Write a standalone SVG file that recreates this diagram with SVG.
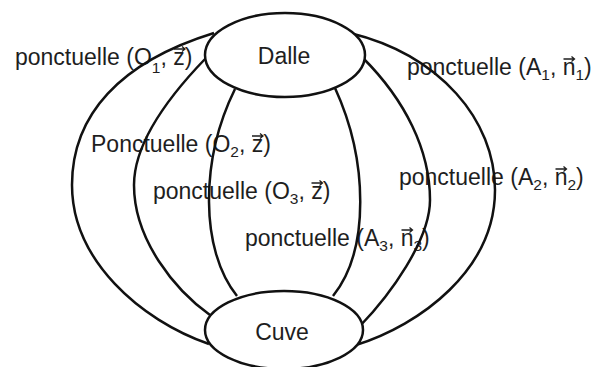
<svg xmlns="http://www.w3.org/2000/svg" xmlns:xlink="http://www.w3.org/1999/xlink" width="606" height="367" viewBox="0 0 606 367">
<style>
.lbl{font-family:"Liberation Sans",Arial,sans-serif;font-size:23px;fill:#1e1e1e}
.sub{font-size:15.5px}
.node{fill:#fff;stroke:#111;stroke-width:2.5}
.ntx{font-family:"Liberation Sans",Arial,sans-serif;font-size:23px;fill:#1e1e1e;text-anchor:middle}
.edge{fill:none;stroke:#111;stroke-width:2.5}
.vec{fill:none;stroke:#1e1e1e;stroke-width:1.3}
</style>
<defs>
<path id="vec" class="vec" d="M0,0 H11 M8,-2.5 L11,0 L8,2.5"/>
</defs>
<rect width="606" height="367" fill="#fff"/>
<g id="labels">
<text class="lbl" x="15" y="65">ponctuelle (O<tspan class="sub" dy="8">1</tspan><tspan dy="-8">, z)</tspan></text>
<use href="#vec" x="174" y="49"/>
<text class="lbl" x="91" y="152">Ponctuelle (O<tspan class="sub" dy="5">2</tspan><tspan dy="-5">, z)</tspan></text>
<use href="#vec" x="252" y="136"/>
<text class="lbl" x="153" y="199">ponctuelle (O<tspan class="sub" dy="5">3</tspan><tspan dy="-5">, z)</tspan></text>
<use href="#vec" x="311.5" y="183"/>
<text class="lbl" x="245" y="246">ponctuelle (A<tspan class="sub" dy="5">3</tspan><tspan dy="-5">, n</tspan><tspan class="sub" dy="5">3</tspan><tspan dy="-5">)</tspan></text>
<use href="#vec" x="401.5" y="230"/>
<text class="lbl" x="407" y="75">ponctuelle (A<tspan class="sub" dy="5">1</tspan><tspan dy="-5">, n</tspan><tspan class="sub" dy="5">1</tspan><tspan dy="-5">)</tspan></text>
<use href="#vec" x="563.5" y="59"/>
<text class="lbl" x="399" y="185">ponctuelle (A<tspan class="sub" dy="5">2</tspan><tspan dy="-5">, n</tspan><tspan class="sub" dy="5">2</tspan><tspan dy="-5">)</tspan></text>
<use href="#vec" x="555.5" y="169"/>
</g>
<g id="connectors">
<path class="edge" d="M214,33 C120,62 72,115 72,185 C72,260 140,320 209,344"/>
<path class="edge" d="M206,58 C175,90 134,140 134,185 C134,240 175,290 210,315"/>
<path class="edge" d="M235,89 C200,160 200,250 237,296"/>
<path class="edge" d="M335,88 C368,160 370,250 333,296"/>
<path class="edge" d="M363,58 C405,100 430,150 430,200 C430,240 390,295 360,326"/>
<path class="edge" d="M350,33 C440,55 495,120 495,190 C495,270 420,325 356,345"/>
</g>
<g id="dalle">
<ellipse class="node" cx="285" cy="55" rx="80" ry="42"/>
<text class="ntx" x="284" y="64">Dalle</text>
</g>
<g id="cuve">
<ellipse class="node" cx="284" cy="330" rx="79" ry="39"/>
<text class="ntx" x="282" y="340">Cuve</text>
</g>
</svg>
